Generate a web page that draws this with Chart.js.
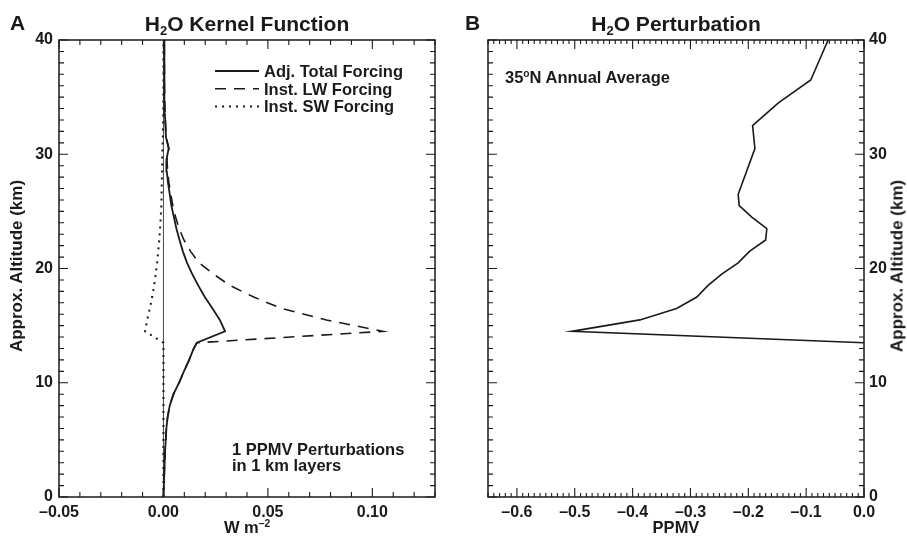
<!DOCTYPE html>
<html><head><meta charset="utf-8">
<script src="https://cdn.jsdelivr.net/npm/chart.js@4.4.1/dist/chart.umd.min.js"></script>
<style>
html,body{margin:0;padding:0;background:#fff;}
#wrap{position:relative;width:907px;height:536px;overflow:hidden;background:#fff;}
canvas{position:absolute;top:0;}
.t{position:absolute;font-family:"Liberation Sans",Arial,Helvetica,sans-serif;font-weight:bold;line-height:1;white-space:nowrap;color:#1a1a1a;}
.c{transform:translateX(-50%);}
.rot{transform:translate(-50%,-50%) rotate(-90deg);}
.sub{font-size:0.62em;position:relative;top:0.3em;}
.sup{font-size:0.62em;position:relative;top:-0.55em;}
</style></head><body>
<div id="wrap">
<canvas id="cA" width="453" height="536" style="left:0;width:453px;height:536px"></canvas>
<canvas id="cB" width="454" height="536" style="left:453px;width:454px;height:536px"></canvas>
<div class="t" style="font-size:21px;left:10px;top:12px">A</div>
<div class="t" style="font-size:21px;left:465px;top:12px">B</div>
<div class="t c" style="font-size:21px;left:247px;top:13px">H<span class="sub">2</span>O Kernel Function</div>
<div class="t c" style="font-size:21px;left:676px;top:13px">H<span class="sub">2</span>O Perturbation</div>
<div class="t c" style="font-size:16.5px;left:247px;top:519px">W m<span class="sup">–2</span></div>
<div class="t c" style="font-size:16.5px;left:676px;top:519px">PPMV</div>
<div class="t rot" style="font-size:17px;left:16px;top:266px">Approx. Altitude (km)</div>
<div class="t rot" style="font-size:17px;left:897px;top:266px">Approx. Altitude (km)</div>
<div class="t" style="font-size:16.5px;left:232px;top:441px">1 PPMV Perturbations</div>
<div class="t" style="font-size:16.5px;left:232px;top:457px">in 1 km layers</div>
<div class="t" style="font-size:16.5px;left:505px;top:69px">35<span class="sup">o</span>N Annual Average</div>
</div>
<script>
// ---------- Panel A: H2O kernel function (W m^-2 per 1 ppmv in 1 km layer) ----------
const altitudeKm = [0, 2, 4, 6, 7, 8, 9, 10, 11, 12, 13, 13.5, 14.5, 15.5, 16.5, 17.5, 18.5, 19.5, 20.5, 21.5, 22.5, 23.5, 24.5, 25.5, 26.5, 27.5, 28.5, 29.5, 30.5, 31.5, 33.5, 36, 40];
const adjTotalForcing = [0, 0.0004, 0.0008, 0.0014, 0.002, 0.003, 0.0048, 0.0075, 0.0098, 0.0123, 0.0145, 0.016, 0.0295, 0.027, 0.0235, 0.0198, 0.0167, 0.0138, 0.0113, 0.0093, 0.0077, 0.0062, 0.005, 0.0038, 0.003, 0.0022, 0.0016, 0.0014, 0.0025, 0.0012, 0.0007, 0.0005, 0.0004];
const instLWForcing = [0, 0.0004, 0.0008, 0.0014, 0.002, 0.003, 0.0048, 0.0075, 0.0098, 0.0123, 0.0145, 0.016, 0.105, 0.078, 0.0566, 0.0432, 0.032, 0.024, 0.017, 0.013, 0.0098, 0.0075, 0.0058, 0.0045, 0.0035, 0.0026, 0.002, 0.0017, 0.0026, 0.0013, 0.0008, 0.0005, 0.0004];
const instSWForcing = [0, 0, 0, 0, 0, 0, 0, 0, 0, 0, 0, 0, -0.0088, -0.0078, -0.0065, -0.0054, -0.0045, -0.0037, -0.003, -0.0025, -0.002, -0.0016, -0.0013, -0.001, -0.0009, -0.0008, -0.0007, -0.0006, -0.0005, -0.0003, -0.0001, 0, 0];
const zeroLineAlt = [0, 40];
const kernelSeriesLabels = ['Adj. Total Forcing', 'Inst. LW Forcing', 'Inst. SW Forcing'];
const kernelXTicks = [-0.05, 0, 0.05, 0.10];
const altitudeTicks = [0, 10, 20, 30, 40];

// ---------- Panel B: H2O perturbation, 35N annual average ----------
const perturbAltKm = [13.5, 14.5, 15.5, 16.5, 17.5, 18.5, 19.5, 20.5, 21.5, 22.5, 23.5, 24.5, 25.5, 26.5, 30.5, 32.5, 34.5, 36.5, 40];
const perturbPpmv = [0.0, -0.505, -0.3875, -0.324, -0.289, -0.27, -0.246, -0.2175, -0.198, -0.170, -0.168, -0.194, -0.2157, -0.2175, -0.1886, -0.1926, -0.148, -0.092, -0.062];
const perturbXTicks = [-0.6, -0.5, -0.4, -0.3, -0.2, -0.1, 0.0];

const INK = '#1a1a1a';
const FONT = '"Liberation Sans", Arial, Helvetica, sans-serif';
Chart.defaults.font.family = FONT;
Chart.defaults.font.weight = 'bold';
Chart.defaults.font.size = 16;
Chart.defaults.color = INK;

function fmtNum(v, d) {
  const s = Math.abs(v).toFixed(d);
  return (v < -1e-9 ? '–' : '') + s;
}

function frameTicks(cfg) {
  return {
    id: 'frameTicks',
    afterDatasetsDraw(chart) {
      const { ctx, chartArea: a, scales } = chart;
      const x = scales.x, y = scales.y;
      ctx.save();
      ctx.strokeStyle = INK;
      ctx.setLineDash([]);
      ctx.lineWidth = 1.5;
      ctx.strokeRect(a.left, a.top, a.right - a.left, a.bottom - a.top);
      ctx.lineWidth = 1.1;
      ctx.beginPath();
      for (let i = cfg.xFrom; i <= cfg.xTo; i++) {
        const px = x.getPixelForValue(i * cfg.xStep);
        const len = (i % cfg.xMajorEvery === 0) ? cfg.majorLen : cfg.xMinorLen;
        ctx.moveTo(px, a.bottom); ctx.lineTo(px, a.bottom - len);
        ctx.moveTo(px, a.top); ctx.lineTo(px, a.top + len);
      }
      for (let j = cfg.yFrom; j <= cfg.yTo; j++) {
        const py = y.getPixelForValue(j * cfg.yStep);
        const len = (j % cfg.yMajorEvery === 0) ? cfg.majorLen : cfg.yMinorLen;
        ctx.moveTo(a.left, py); ctx.lineTo(a.left + len, py);
        ctx.moveTo(a.right, py); ctx.lineTo(a.right - len, py);
      }
      ctx.stroke();
      ctx.restore();
    }
  };
}

const kernelLegend = {
  id: 'kernelLegend',
  afterDraw(chart) {
    const ctx = chart.ctx;
    ctx.save();
    ctx.font = 'bold 16.5px ' + FONT;
    ctx.fillStyle = INK;
    ctx.textBaseline = 'alphabetic';
    const baselines = [77, 94.7, 112.4];
    kernelSeriesLabels.forEach((lab, i) => {
      const ds = chart.data.datasets[i];
      const yb = baselines[i];
      ctx.beginPath();
      ctx.strokeStyle = ds.borderColor;
      ctx.lineWidth = ds.borderWidth;
      ctx.setLineDash(ds.borderDash || []);
      ctx.moveTo(215, yb - 6);
      ctx.lineTo(259, yb - 6);
      ctx.stroke();
      ctx.setLineDash([]);
      ctx.fillText(lab, 264, yb);
    });
    ctx.restore();
  }
};

function pts(xs, ys) { return xs.map((v, i) => ({ x: v, y: ys[i] })); }

new Chart(document.getElementById('cA'), {
  type: 'scatter',
  data: {
    datasets: [
      { label: kernelSeriesLabels[0], data: pts(adjTotalForcing, altitudeKm), showLine: true, borderColor: INK, borderWidth: 1.8, pointRadius: 0, tension: 0 },
      { label: kernelSeriesLabels[1], data: pts(instLWForcing, altitudeKm), showLine: true, borderColor: INK, borderWidth: 1.6, borderDash: [11, 8], pointRadius: 0, tension: 0 },
      { label: kernelSeriesLabels[2], data: pts(instSWForcing, altitudeKm), showLine: true, borderColor: INK, borderWidth: 2, borderDash: [2, 5], pointRadius: 0, tension: 0 },
      { label: 'zero', data: zeroLineAlt.map(h => ({ x: 0, y: h })), showLine: true, borderColor: '#333', borderWidth: 0.9, pointRadius: 0 }
    ]
  },
  options: {
    responsive: false, animation: false,
    layout: { padding: { top: 40, right: 18, left: 0, bottom: 0 } },
    plugins: { legend: { display: false }, tooltip: { enabled: false } },
    scales: {
      x: {
        type: 'linear', position: 'bottom', min: -0.05, max: 0.13,
        afterBuildTicks: s => { s.ticks = kernelXTicks.map(v => ({ value: v })); },
        afterFit: s => { s.height = 39; },
        grid: { display: false, drawTicks: false }, border: { display: false },
        ticks: { padding: 6, maxRotation: 0, autoSkip: false, callback: v => fmtNum(v, 2) }
      },
      y: {
        type: 'linear', position: 'left', min: 0, max: 40,
        afterBuildTicks: s => { s.ticks = altitudeTicks.map(v => ({ value: v })); },
        afterFit: s => { s.width = 59; },
        grid: { display: false, drawTicks: false }, border: { display: false },
        ticks: { padding: 6, autoSkip: false, callback: v => String(v) }
      }
    }
  },
  plugins: [frameTicks({ xFrom: -5, xTo: 13, xStep: 0.01, xMajorEvery: 5, yFrom: 0, yTo: 40, yStep: 1, yMajorEvery: 10, majorLen: 9, xMinorLen: 5, yMinorLen: 5 }), kernelLegend]
});

new Chart(document.getElementById('cB'), {
  type: 'scatter',
  data: {
    datasets: [
      { label: 'H2O Perturbation', data: pts(perturbPpmv, perturbAltKm), showLine: true, borderColor: INK, borderWidth: 1.6, pointRadius: 0, tension: 0 }
    ]
  },
  options: {
    responsive: false, animation: false,
    layout: { padding: { top: 40, right: 0, left: 35, bottom: 0 } },
    plugins: { legend: { display: false }, tooltip: { enabled: false } },
    scales: {
      x: {
        type: 'linear', position: 'bottom', min: -0.65, max: 0.0,
        afterBuildTicks: s => { s.ticks = perturbXTicks.map(v => ({ value: v })); },
        afterFit: s => { s.height = 39; },
        grid: { display: false, drawTicks: false }, border: { display: false },
        ticks: { padding: 6, maxRotation: 0, autoSkip: false, callback: v => fmtNum(v, 1) }
      },
      y: {
        type: 'linear', position: 'right', min: 0, max: 40,
        afterBuildTicks: s => { s.ticks = altitudeTicks.map(v => ({ value: v })); },
        afterFit: s => { s.width = 43; },
        grid: { display: false, drawTicks: false }, border: { display: false },
        ticks: { padding: 5, autoSkip: false, callback: v => String(v) }
      }
    }
  },
  plugins: [frameTicks({ xFrom: -65, xTo: 0, xStep: 0.01, xMajorEvery: 10, yFrom: 0, yTo: 40, yStep: 1, yMajorEvery: 10, majorLen: 9, xMinorLen: 4, yMinorLen: 5 })]
});
</script>
</body></html>
